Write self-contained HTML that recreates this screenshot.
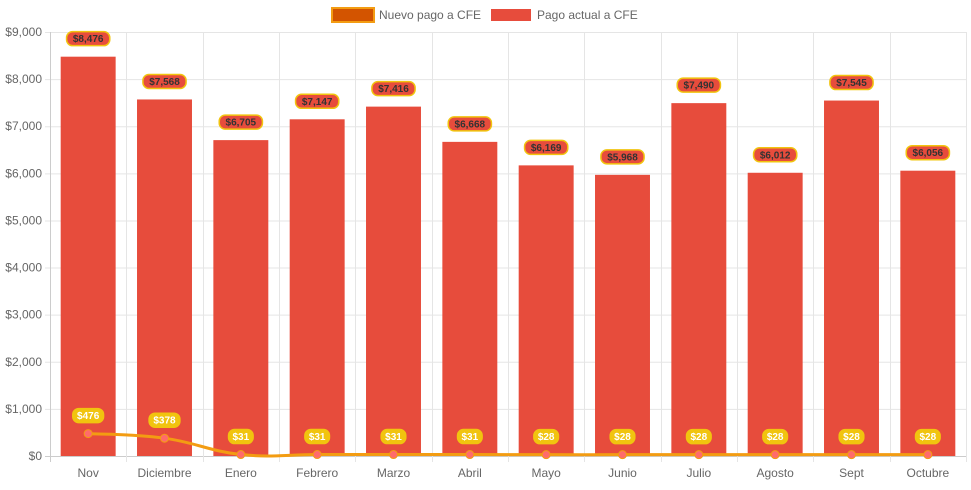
<!DOCTYPE html>
<html><head><meta charset="utf-8"><style>
body{margin:0;background:#fff;font-family:"Liberation Sans",Arial,sans-serif}
svg text{font-family:"Liberation Sans",Arial,sans-serif}
</style></head><body>
<svg id="chart" width="971" height="485" xmlns="http://www.w3.org/2000/svg">
<g>
<g>
<rect x="332" y="8" width="42" height="14" fill="#d35400" stroke="#f39c12" stroke-width="2"/>
<text x="379" y="19" font-size="12" fill="#666">Nuevo pago a CFE</text></g>
<g>
<rect x="491" y="9" width="40" height="12" fill="#e74c3c"/>
<text x="537" y="19" font-size="12" fill="#666">Pago actual a CFE</text></g>
</g>
<g id="grid"></g><g id="bars"></g><g id="line"></g><g id="labels"></g>
</svg>
<script>
const categories=["Nov","Diciembre","Enero","Febrero","Marzo","Abril","Mayo","Junio","Julio","Agosto","Sept","Octubre"];
const actual=[8476,7568,6705,7147,7416,6668,6169,5968,7490,6012,7545,6056];
const nuevo=[476,378,31,31,31,31,28,28,28,28,28,28];
const yTicks=[0,1000,2000,3000,4000,5000,6000,7000,8000,9000];
const NS="http://www.w3.org/2000/svg";
const L=50,R=966,T=32,B=456,YMAX=9000;
const cw=(R-L)/categories.length;
const y=v=>B-(v/YMAX)*(B-T);
const xc=i=>L+cw*(i+0.5);
const fmt=v=>"$"+v.toLocaleString("en-US");
function mk(tag,attrs,parent,txt){const e=document.createElementNS(NS,tag);for(const k in attrs)e.setAttribute(k,attrs[k]);if(txt!==undefined)e.textContent=txt;parent.appendChild(e);return e;}
const grid=document.getElementById("grid"),bars=document.getElementById("bars"),line=document.getElementById("line"),labels=document.getElementById("labels");
yTicks.forEach(t=>{
  mk("line",{x1:L-5,x2:R,y1:y(t)+0.5,y2:y(t)+0.5,stroke:t===0?"#ccc":"#e5e5e5"},grid);
  const tx=mk("text",{x:L-8,y:y(t)+4,"text-anchor":"end","font-size":"12",fill:"#666"},grid,fmt(t));
  
  
});
for(let i=0;i<=categories.length;i++){
  const x=Math.round(L+cw*i)+0.5;
  mk("line",{x1:x,x2:x,y1:T,y2:B+6,stroke:i===0?"#ccc":"#e5e5e5"},grid);
}
categories.forEach((c,i)=>{
  const tx=mk("text",{x:xc(i),y:B+21,"text-anchor":"middle","font-size":"12",fill:"#666"},grid,c);
  
  
});
const bw=cw*0.72;
actual.forEach((v,i)=>{
  const r=mk("rect",{x:xc(i)-bw/2,y:y(v),width:bw,height:B-y(v),fill:"#e74c3c"},bars);
  
  
});
// smooth line
const pts=nuevo.map((v,i)=>[xc(i),y(v)]);
let d="M"+pts[0][0]+","+pts[0][1];
for(let i=0;i<pts.length-1;i++){
  const p0=pts[Math.max(i-1,0)],p1=pts[i],p2=pts[i+1],p3=pts[Math.min(i+2,pts.length-1)];
  const t=0.2;
  const c1=[p1[0]+(p2[0]-p0[0])*t,p1[1]+(p2[1]-p0[1])*t];
  const c2=[p2[0]-(p3[0]-p1[0])*t,p2[1]-(p3[1]-p1[1])*t];
  d+=` C${c1[0]},${c1[1]} ${c2[0]},${c2[1]} ${p2[0]},${p2[1]}`;
}
const pl=mk("path",{d:d,fill:"none",stroke:"#f39c12","stroke-width":3},line);


pts.forEach((p,i)=>{
  const c=mk("circle",{cx:p[0],cy:p[1],r:4,fill:"#ff6b6b",stroke:"#f39c12","stroke-width":1},line);
  
  
});
function badge(cx,cy,txt,bg,border,color,name){
  const g=mk("g",{},labels);
  
  
  const w=txt.length*6.2+6;
  mk("rect",{x:cx-w/2,y:cy-7,width:w,height:14,rx:6,fill:bg,stroke:border,"stroke-width":1.5},g);
  mk("text",{x:cx,y:cy+3.5,"text-anchor":"middle","font-size":"10","font-weight":"bold",fill:color},g,txt);
}
actual.forEach((v,i)=>badge(xc(i),y(v)-18,fmt(v),"#e74c3c","#f1c40f","#333","bar-value-label"));
nuevo.forEach((v,i)=>badge(xc(i),y(v)-18,fmt(v),"#f1c40f","#f1c40f","#fff","line-value-label"));
</script>
</body></html>
